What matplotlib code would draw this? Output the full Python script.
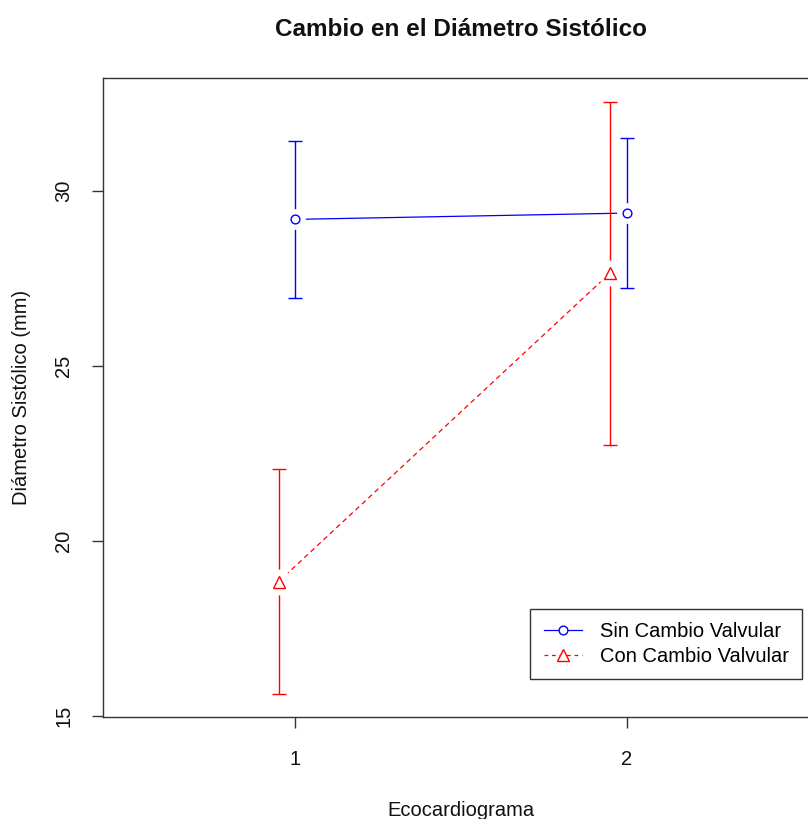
import matplotlib
matplotlib.use("Agg")
import matplotlib.pyplot as plt
from matplotlib.lines import Line2D
import numpy as np

plt.rcParams['font.family'] = ['Liberation Sans', 'DejaVu Sans']

visits = [1, 2]
sin_mean = [29.19, 29.37]
sin_low = [26.95, 27.22]
sin_high = [31.42, 31.52]
con_mean = [18.84, 27.66]
con_low = [15.62, 22.74]
con_high = [22.05, 32.54]
offset_con = -0.05

W, H = 808, 819
fig = plt.figure(figsize=(W / 100, H / 100), dpi=100)
# axes in pixel coordinates: left 103, right 819, top 78, bottom 717
ax = fig.add_axes([103 / W, 1 - 717 / H, (819 - 103) / W, (717 - 78) / H])

xs = np.array(visits, dtype=float)
xc = xs + offset_con

def series(x, m, lo, hi, color, ls, marker, ms):
    m = np.array(m); lo = np.array(lo); hi = np.array(hi)
    ax.errorbar(x, m, yerr=[m - lo, hi - m], fmt='none', ecolor=color,
                elinewidth=1.0, capsize=5.0, capthick=1.0, zorder=2)
    if ls == '--':
        ax.plot(x, m, color=color, ls='--', dashes=(4, 3), lw=0.9, zorder=2)
    else:
        ax.plot(x, m, color=color, ls='-', lw=0.9, zorder=2)
    # gap around marker (R type="b")
    ax.plot(x, m, ls='none', marker='o', ms=ms * 2.2, mfc='white', mec='white', zorder=3)
    ax.plot(x, m, ls='none', marker=marker, ms=ms, mfc='white', mec=color, mew=1.0, zorder=4)

series(xs, sin_mean, sin_low, sin_high, 'blue', '-', 'o', 6.3)
series(xc, con_mean, con_low, con_high, 'red', '--', '^', 8.0)

ax.set_xlim(0.42, 2.58)
ax.set_ylim(14.97, 33.23)
ax.set_xticks([1, 2])
ax.set_xticklabels(['1', '2'])
ax.set_yticks([15, 20, 25, 30])
ax.set_yticklabels(['15', '20', '25', '30'], rotation=90, va='center')
for s in ax.spines.values():
    s.set_color('#333333')
    s.set_linewidth(1.0)
ax.tick_params(axis='both', length=8, width=1.0, color='#333333', labelsize=14.5,
               labelcolor='#111111')
ax.tick_params(axis='x', pad=16)
ax.tick_params(axis='y', pad=13.5)

ax.set_xlabel('Ecocardiograma', fontsize=14.5, color='#111111', labelpad=23)
ax.set_ylabel('Diámetro Sistólico (mm)', fontsize=14.5, color='#111111', labelpad=17)
fig.text(461 / W, 1 - 30 / H, 'Cambio en el Diámetro Sistólico', ha='center', va='center',
         fontsize=17.5, fontweight='bold', color='#111111')

h1 = Line2D([], [], color='blue', lw=0.9, marker='o', ms=6.3, mfc='white', mec='blue')
h2 = Line2D([], [], color='red', lw=0.9, ls='--', dashes=(3, 3), marker='^', ms=8,
            mfc='white', mec='red')
leg = ax.legend([h1, h2], ['Sin Cambio Valvular', 'Con Cambio Valvular'],
                loc='lower right', bbox_to_anchor=(802 / W, 1 - 679 / H),
                bbox_transform=fig.transFigure, fontsize=14.5, frameon=True,
                fancybox=False, edgecolor='#333333', framealpha=1,
                handlelength=1.9, handletextpad=0.9, borderpad=0.65, labelspacing=0.3,
                borderaxespad=0)
leg.get_frame().set_linewidth(1.0)

fig.savefig('out.png', dpi=100)
